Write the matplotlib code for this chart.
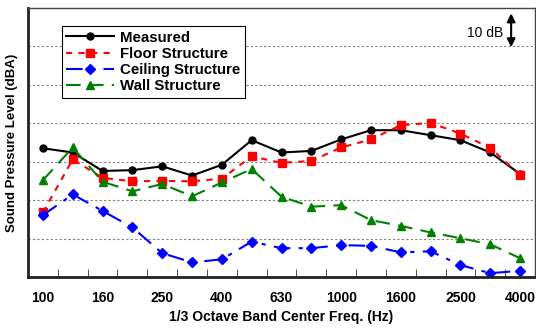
import matplotlib
matplotlib.use("Agg")
import matplotlib.pyplot as plt
import numpy as np

plt.rcParams['font.family'] = ['Liberation Sans', 'DejaVu Sans']

# 1/3 octave bands
bands = ['100', '125', '160', '200', '250', '315', '400', '500', '630', '800',
         '1000', '1250', '1600', '2000', '2500', '3150', '4000']
measured = [33.5, 32.4, 27.6, 27.8, 28.8, 26.4, 29.2, 35.6, 32.4, 32.8,
            35.8, 38.2, 38.2, 36.9, 35.6, 32.4, 26.8]
floor = [16.8, 30.6, 25.8, 24.9, 25.0, 24.9, 25.6, 31.4, 29.7, 30.2,
         33.7, 35.8, 39.5, 40.1, 37.3, 33.6, 26.5]
ceiling = [16.1, 21.5, 17.2, 12.9, 6.2, 3.8, 4.6, 9.2, 7.5, 7.5,
           8.3, 8.1, 6.4, 6.7, 3.1, 1.0, 1.6]
wall = [25.2, 33.7, 24.8, 22.3, 24.2, 21.0, 24.6, 28.1, 20.9, 18.3,
        18.7, 14.8, 13.3, 11.6, 10.1, 8.5, 4.9]

x = np.arange(len(bands))

fig = plt.figure(figsize=(5.36, 3.28), dpi=100)
ax = fig.add_axes([28/536, 51/328, 507/536, 269/328])

ax.plot(x, measured, '-', color='black', marker='o', ms=5, lw=1.5, label='Measured')
ax.plot(x, floor, color='red', ls=(0, (3, 3)), marker='s', ms=6, lw=1.5, label='Floor Structure')
ax.plot(x, ceiling, color='blue', ls=(0, (8, 4, 2, 4)), marker='D', ms=5, lw=1.5, label='Ceiling Structure')
ax.plot(x, wall, color='green', ls=(0, (7, 4)), marker='^', ms=6, lw=1.5, label='Wall Structure')

ax.set_xlim(-0.5, 16.5)
ax.set_ylim(0, 70)
ax.set_yticks([10, 20, 30, 40, 50, 60])
ax.set_yticklabels([])
ax.tick_params(axis='y', length=0)
ax.grid(axis='y', color='gray', ls=(0, (2, 2)), lw=0.8)

ax.set_xticks(x[::2])
ax.set_xticklabels(bands[::2], fontweight='bold', fontsize=10)
ax.tick_params(axis='x', which='major', length=0, pad=10)
ax.set_xticks(np.arange(0.5, 16, 1), minor=True)
ax.tick_params(axis='x', which='minor', direction='in', length=6, color='#333333')

for s in ['left', 'bottom']:
    ax.spines[s].set_linewidth(2)
    ax.spines[s].set_color('#222222')
for s in ['top', 'right']:
    ax.spines[s].set_linewidth(1)
    ax.spines[s].set_color('#444444')

ax.set_xlabel('1/3 Octave Band Center Freq. (Hz)', fontweight='bold', fontsize=10, labelpad=4)
ax.set_ylabel('Sound Pressure Level (dBA)', fontweight='bold', fontsize=9.5, labelpad=4)

leg = ax.legend(loc='upper left', bbox_to_anchor=(0.067, 0.933), borderaxespad=0,
                fancybox=False, edgecolor='black', framealpha=1, borderpad=0.3,
                labelspacing=0.15, handlelength=3.2, handletextpad=0.4,
                prop={'weight': 'bold', 'size': 10.8})
leg.get_frame().set_linewidth(0.8)

# 10 dB scale arrow
ax.annotate('', xy=(15.7, 68.6), xytext=(15.7, 59.8),
            arrowprops=dict(arrowstyle='<|-|>', color='black', lw=1.5,
                            mutation_scale=12, shrinkA=0, shrinkB=0))
ax.text(15.45, 63.6, '10 dB', ha='right', va='center', fontsize=10)

fig.savefig('out.png', dpi=100)
